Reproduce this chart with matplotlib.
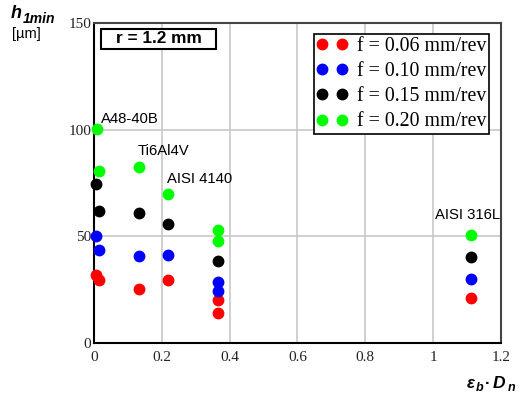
import matplotlib
matplotlib.use('Agg')
from matplotlib import pyplot as plt
from matplotlib.patches import Rectangle
from matplotlib.lines import Line2D
from matplotlib.legend_handler import HandlerLine2D

# feed rates (legend) and colours
feeds = ['f = 0.06 mm/rev', 'f = 0.10 mm/rev', 'f = 0.15 mm/rev', 'f = 0.20 mm/rev']
colors = ['#ff0000', '#0000ff', '#000000', '#00ff00']

# eps_b * D_n for each measured point, per feed
x_f006 = [0.007, 0.015, 0.134, 0.218, 0.367, 0.367, 1.113]
y_f006 = [32.0, 29.4, 25.3, 29.4, 20.3, 14.2, 21.2]
x_f010 = [0.007, 0.015, 0.134, 0.218, 0.367, 0.367, 1.113]
y_f010 = [50.3, 43.7, 40.6, 41.4, 28.6, 24.5, 29.9]
x_f015 = [0.005, 0.015, 0.134, 0.218, 0.367, 1.113]
y_f015 = [74.7, 62.0, 61.1, 55.8, 38.3, 40.5]
x_f020 = [0.008, 0.015, 0.134, 0.217, 0.367, 0.367, 1.113]
y_f020 = [100.3, 80.6, 82.7, 69.9, 52.8, 47.8, 50.8]

materials = ['A48-40B', 'Ti6Al4V', 'AISI 4140', 'AISI 316L']
mat_x = [0.02, 0.13, 0.215, 1.005]
mat_y = [105, 90, 77, 60]

xs = [x_f006, x_f010, x_f015, x_f020]
ys = [y_f006, y_f010, y_f015, y_f020]

fig = plt.figure(figsize=(5.21, 4.01), dpi=100)
ax = fig.add_axes([0.1804, 0.1446, 0.7812, 0.798])

for x, y, c, lab in zip(xs, ys, colors, feeds):
    ax.plot(x, y, 'o', color=c, markersize=7.5, label=lab, zorder=3, clip_on=False)

for name, tx, ty in zip(materials, mat_x, mat_y):
    ax.text(tx, ty, name, fontsize=10.7, family='Liberation Sans', va='center', ha='left')

ax.set_xlim(0, 1.2)
ax.set_ylim(0, 150)
ax.set_xticks([0, 0.2, 0.4, 0.6, 0.8, 1.0, 1.2])
ax.set_xticklabels(['0', '0.2', '0.4', '0.6', '0.8', '1', '1.2'])
ax.set_yticks([0, 50, 100, 150])
ax.set_yticklabels(['0', '50', '100', '150'])
for lbl in ax.get_xticklabels() + ax.get_yticklabels():
    lbl.set_family('Liberation Serif')
    lbl.set_fontsize(11)
    lbl.set_color('#222222')
ax.tick_params(length=0, pad=6)
ax.tick_params(axis='y', pad=2)
ax.grid(True, color='#c8c8c8', linewidth=1.2)
ax.set_axisbelow(True)

for s in ['left', 'bottom']:
    ax.spines[s].set_color('black')
    ax.spines[s].set_linewidth(1.5)
for s in ['top', 'right']:
    ax.spines[s].set_color('#444444')
    ax.spines[s].set_linewidth(1.5)

leg = ax.legend(loc='upper right', numpoints=2, prop={'family': 'Liberation Serif', 'size': 14.3},
                frameon=True, fancybox=False, edgecolor='black', framealpha=1,
                borderpad=0.15, labelspacing=0.31, handlelength=1.5, handletextpad=0.5,
                borderaxespad=0, bbox_to_anchor=(0.9705, 0.9656),
                handler_map={Line2D: HandlerLine2D(marker_pad=0.25)})
leg.get_frame().set_linewidth(1.2)

# r = 1.2 mm box
ax.add_patch(Rectangle((0.0172, 0.919), 0.2826, 0.062, transform=ax.transAxes, facecolor='white',
                       edgecolor='black', linewidth=1.5, zorder=4))
ax.text(0.1585, 0.951, 'r = 1.2 mm', transform=ax.transAxes, fontsize=12.4, fontweight='bold',
        family='Liberation Sans', va='center', ha='center', zorder=5)

# y label
fig.text(0.02, 0.967, 'h', fontsize=13, fontweight='bold', style='italic', family='Liberation Sans', va='center')
fig.text(0.043, 0.953, '1min', fontsize=10, fontweight='bold', style='italic', family='Liberation Sans', va='center')
fig.text(0.023, 0.915, '[µm]', fontsize=10.5, family='Liberation Sans', va='center')

# x label
fig.text(0.896, 0.044, 'ε', fontsize=12, fontweight='bold', style='italic', family='Liberation Sans', va='center')
fig.text(0.914, 0.032, 'b', fontsize=9, fontweight='bold', style='italic', family='Liberation Sans', va='center')
fig.text(0.936, 0.044, '·', fontsize=12, fontweight='bold', family='Liberation Sans', va='center', ha='center')
fig.text(0.945, 0.044, 'D', fontsize=12.5, fontweight='bold', style='italic', family='Liberation Sans', va='center')
fig.text(0.975, 0.032, 'n', fontsize=9, fontweight='bold', style='italic', family='Liberation Sans', va='center')

fig.savefig('out.png', dpi=100)
